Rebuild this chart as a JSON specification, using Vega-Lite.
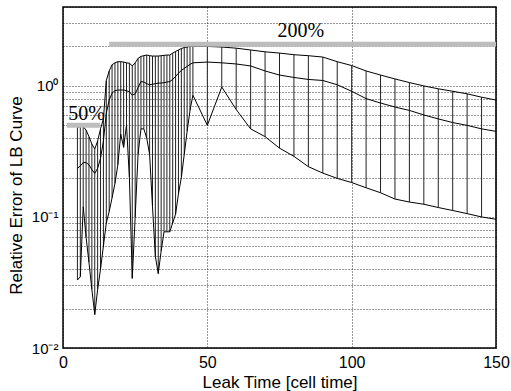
{
  "$schema": "https://vega.github.io/schema/vega-lite/v6.json",
  "width": 433,
  "height": 341,
  "autosize": {"type": "none"},
  "padding": {"left": 63, "top": 7, "right": 15, "bottom": 43},
  "background": "white",
  "config": {
    "view": {"stroke": "#000", "strokeWidth": 1.5},
    "font": "Liberation Sans"
  },
  "datasets": {
    "err": [
      {"x": 5, "lo": 0.033, "mid": 0.235, "hi": 0.48},
      {"x": 6, "lo": 0.035, "mid": 0.245, "hi": 0.49},
      {"x": 7, "lo": 0.12, "mid": 0.26, "hi": 0.49},
      {"x": 8, "lo": 0.07, "mid": 0.26, "hi": 0.46},
      {"x": 9, "lo": 0.045, "mid": 0.25, "hi": 0.41},
      {"x": 10, "lo": 0.028, "mid": 0.23, "hi": 0.36},
      {"x": 11, "lo": 0.018, "mid": 0.215, "hi": 0.33},
      {"x": 12, "lo": 0.028, "mid": 0.235, "hi": 0.38},
      {"x": 13, "lo": 0.04, "mid": 0.28, "hi": 0.47},
      {"x": 14, "lo": 0.06, "mid": 0.38, "hi": 0.56},
      {"x": 15, "lo": 0.09, "mid": 0.62, "hi": 1.1},
      {"x": 16, "lo": 0.11, "mid": 0.78, "hi": 1.3},
      {"x": 17, "lo": 0.14, "mid": 0.88, "hi": 1.45},
      {"x": 18, "lo": 0.18, "mid": 0.92, "hi": 1.5},
      {"x": 19, "lo": 0.25, "mid": 0.93, "hi": 1.53},
      {"x": 20, "lo": 0.43, "mid": 0.93, "hi": 1.53},
      {"x": 21, "lo": 0.34, "mid": 0.93, "hi": 1.52},
      {"x": 22, "lo": 0.5, "mid": 0.92, "hi": 1.5},
      {"x": 23, "lo": 0.2, "mid": 0.9, "hi": 1.49},
      {"x": 24, "lo": 0.034, "mid": 0.85, "hi": 1.42},
      {"x": 25, "lo": 0.1, "mid": 0.87, "hi": 1.5},
      {"x": 26, "lo": 0.3, "mid": 0.97, "hi": 1.62},
      {"x": 27, "lo": 0.47, "mid": 1.08, "hi": 1.68},
      {"x": 28, "lo": 0.47, "mid": 1.07, "hi": 1.7},
      {"x": 29, "lo": 0.4, "mid": 1.04, "hi": 1.72},
      {"x": 30, "lo": 0.3, "mid": 1.02, "hi": 1.7},
      {"x": 31, "lo": 0.12, "mid": 1.03, "hi": 1.69},
      {"x": 32, "lo": 0.05, "mid": 1.04, "hi": 1.69},
      {"x": 33, "lo": 0.037, "mid": 1.05, "hi": 1.69},
      {"x": 34, "lo": 0.055, "mid": 1.05, "hi": 1.7},
      {"x": 35, "lo": 0.077, "mid": 1.06, "hi": 1.71},
      {"x": 36, "lo": 0.077, "mid": 1.07, "hi": 1.72},
      {"x": 37, "lo": 0.077, "mid": 1.08, "hi": 1.72},
      {"x": 38, "lo": 0.09, "mid": 1.12, "hi": 1.78},
      {"x": 39, "lo": 0.105, "mid": 1.18, "hi": 1.83},
      {"x": 40, "lo": 0.15, "mid": 1.25, "hi": 1.88},
      {"x": 41, "lo": 0.2, "mid": 1.31, "hi": 1.93},
      {"x": 42, "lo": 0.3, "mid": 1.36, "hi": 1.96},
      {"x": 43, "lo": 0.45, "mid": 1.41, "hi": 1.98},
      {"x": 44, "lo": 0.65, "mid": 1.46, "hi": 2.0},
      {"x": 45, "lo": 0.85, "mid": 1.5, "hi": 2.0},
      {"x": 50, "lo": 0.5, "mid": 1.52, "hi": 2.0},
      {"x": 55, "lo": 0.98, "mid": 1.5, "hi": 1.98},
      {"x": 60, "lo": 0.66, "mid": 1.47, "hi": 1.94},
      {"x": 65, "lo": 0.47, "mid": 1.42, "hi": 1.88},
      {"x": 70, "lo": 0.41, "mid": 1.3, "hi": 1.82},
      {"x": 75, "lo": 0.335, "mid": 1.21, "hi": 1.78},
      {"x": 80, "lo": 0.29, "mid": 1.16, "hi": 1.73},
      {"x": 85, "lo": 0.242, "mid": 1.12, "hi": 1.7},
      {"x": 90, "lo": 0.216, "mid": 1.1, "hi": 1.66},
      {"x": 95, "lo": 0.197, "mid": 1.02, "hi": 1.53},
      {"x": 100, "lo": 0.183, "mid": 0.91, "hi": 1.43},
      {"x": 105, "lo": 0.167, "mid": 0.8, "hi": 1.3},
      {"x": 110, "lo": 0.153, "mid": 0.74, "hi": 1.21},
      {"x": 115, "lo": 0.137, "mid": 0.69, "hi": 1.13},
      {"x": 120, "lo": 0.13, "mid": 0.65, "hi": 1.06},
      {"x": 125, "lo": 0.125, "mid": 0.6, "hi": 1.0},
      {"x": 130, "lo": 0.118, "mid": 0.56, "hi": 0.95},
      {"x": 135, "lo": 0.112, "mid": 0.525, "hi": 0.91},
      {"x": 140, "lo": 0.106, "mid": 0.5, "hi": 0.87},
      {"x": 145, "lo": 0.1, "mid": 0.47, "hi": 0.82},
      {"x": 150, "lo": 0.096, "mid": 0.45, "hi": 0.78}
    ],
    "bands": [
      {"x": 1.3, "x2": 12.8, "y": 0.5},
      {"x": 16, "x2": 150, "y": 2.08}
    ],
    "labels": [
      {"x": 8.2, "y": 0.55, "t": "50%"},
      {"x": 82.4, "y": 2.35, "t": "200%"}
    ]
  },
  "layer": [
    {
      "data": {"name": "err"},
      "mark": {"type": "rule", "color": "#222", "strokeWidth": 1},
      "encoding": {
        "x": {
          "field": "x", "type": "quantitative",
          "scale": {"domain": [0, 150], "nice": false, "zero": false},
          "axis": {
            "values": [0, 50, 100, 150],
            "title": "Leak Time [cell time]",
            "titleFont": "Liberation Sans", "titleFontSize": 17, "titleFontWeight": "normal", "titleColor": "#000",
            "titlePadding": 4,
            "labelFont": "Liberation Sans", "labelFontSize": 16, "labelColor": "#000", "labelPadding": 6,
            "labelFlush": false,
            "domain": false, "ticks": false,
            "grid": true, "gridColor": "#000", "gridDash": [1, 2], "gridOpacity": 0.8, "gridWidth": 1
          }
        },
        "y": {
          "field": "lo", "type": "quantitative",
          "scale": {"type": "log", "domain": [0.01, 4], "nice": false},
          "axis": {
            "values": [0.01, 0.02, 0.03, 0.04, 0.05, 0.06, 0.07, 0.08, 0.09, 0.1, 0.2, 0.3, 0.4, 0.5, 0.6, 0.7, 0.8, 0.9, 1, 2, 3, 4],
            "labelExpr": "datum.value == 1 ? '10⁰' : (abs(datum.value - 0.1) < 1e-9 ? '10⁻¹' : (abs(datum.value - 0.01) < 1e-9 ? '10⁻²' : ''))",
            "title": "Relative Error of LB Curve",
            "titleFont": "Liberation Sans", "titleFontSize": 17, "titleFontWeight": "normal", "titleColor": "#000",
            "titleX": -38, "titleY": 188, "titleAngle": -90, "titleBaseline": "bottom", "titleAlign": "center",
            "labelFont": "Liberation Sans", "labelFontSize": 15, "labelColor": "#000", "labelPadding": 5,
            "labelFlush": false, "labelOverlap": false,
            "domain": false, "ticks": false,
            "grid": true, "gridColor": "#000", "gridDash": [1, 2], "gridOpacity": 0.8, "gridWidth": 1
          }
        },
        "y2": {"field": "hi"}
      }
    },
    {
      "data": {"name": "err"},
      "mark": {"type": "line", "color": "#000", "strokeWidth": 1},
      "encoding": {
        "x": {"field": "x", "type": "quantitative"},
        "y": {"field": "hi", "type": "quantitative"}
      }
    },
    {
      "data": {"name": "err"},
      "mark": {"type": "line", "color": "#000", "strokeWidth": 1},
      "encoding": {
        "x": {"field": "x", "type": "quantitative"},
        "y": {"field": "mid", "type": "quantitative"}
      }
    },
    {
      "data": {"name": "err"},
      "mark": {"type": "line", "color": "#000", "strokeWidth": 1},
      "encoding": {
        "x": {"field": "x", "type": "quantitative"},
        "y": {"field": "lo", "type": "quantitative"}
      }
    },
    {
      "data": {"name": "bands"},
      "mark": {"type": "rule", "color": "#bdbdbd", "strokeWidth": 5},
      "encoding": {
        "x": {"field": "x", "type": "quantitative"},
        "x2": {"field": "x2"},
        "y": {"field": "y", "type": "quantitative"}
      }
    },
    {
      "data": {"name": "labels"},
      "mark": {"type": "text", "font": "Liberation Serif", "fontSize": 20, "color": "#000", "align": "center", "baseline": "alphabetic"},
      "encoding": {
        "x": {"field": "x", "type": "quantitative"},
        "y": {"field": "y", "type": "quantitative"},
        "text": {"field": "t"}
      }
    }
  ]
}
